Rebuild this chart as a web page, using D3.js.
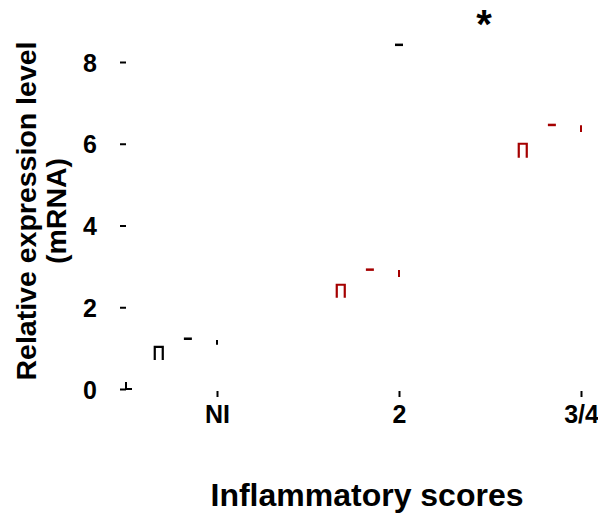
<!DOCTYPE html>
<html>
<head>
<meta charset="utf-8">
<script src="https://cdn.jsdelivr.net/npm/d3@7"></script>
<style>
  body { margin: 0; background: #fff; }
  text { font-family: "Liberation Sans", Arial, sans-serif; font-weight: bold; }
</style>
</head>
<body>
<div id="chart"></div>
<script>
const width = 598;
const height = 524;

// categories on the x axis (numeric positions 1..3)
const categories = ["NI", "2", "3/4"];
const groupColors = ["#000000", "#a50000", "#a50000"];

// open box marks: [low, high]
const boxLow = [0.71, 2.23, 5.66];
const boxHigh = [1.03, 2.55, 6.0];
// short horizontal marks
const dashValues = [1.23, 2.92, 6.46];
// short vertical marks: [low, high]
const tickLow = [1.08, 2.74, 6.29];
const tickHigh = [1.2, 2.91, 6.45];
// lone black dash above group "2"
const extraValue = 8.42;

const yTicks = [0, 2, 4, 6, 8];

const svg = d3
  .select("#chart")
  .append("svg")
  .attr("width", width)
  .attr("height", height);

const xScale = d3.scaleLinear().domain([0.5, 3]).range([126, 581]);
const yScale = d3.scaleLinear().domain([0, 8]).range([389, 62]);

// y axis: only the short tick stubs, no domain line
const yAxis = d3
  .axisLeft(yScale)
  .tickValues(yTicks)
  .tickSize(6)
  .tickPadding(23)
  .tickFormat(d3.format("d"));

const yG = svg
  .append("g")
  .attr("transform", `translate(${xScale(0.5)}, 0)`)
  .call(yAxis);
yG.select(".domain").remove();
yG.selectAll(".tick line").attr("stroke", "#000").attr("stroke-width", 2);
yG.selectAll(".tick text")
  .attr("fill", "#000")
  .style("font-size", "25px")
  .attr("dy", "0.36em");

// origin stub
svg
  .append("path")
  .attr("d", `M${xScale(0.5)},${yScale(0) - 7}V${yScale(0)}H${xScale(0.5) + 6}`)
  .attr("fill", "none")
  .attr("stroke", "#000")
  .attr("stroke-width", 2);

// x axis: short ticks below the plot
const xAxis = d3
  .axisBottom(xScale)
  .tickValues([1, 2, 3])
  .tickSize(6)
  .tickPadding(8)
  .tickFormat((d) => categories[d - 1]);

const xG = svg
  .append("g")
  .attr("transform", `translate(0, ${yScale(0) + 2})`)
  .call(xAxis);
xG.select(".domain").remove();
xG.selectAll(".tick line").attr("stroke", "#000").attr("stroke-width", 2);
xG.selectAll(".tick text")
  .attr("fill", "#000")
  .style("font-size", "25px");

const groups = categories.map((c, i) => ({
  pos: i + 1,
  color: groupColors[i],
  boxLow: boxLow[i],
  boxHigh: boxHigh[i],
  dash: dashValues[i],
  tickLow: tickLow[i],
  tickHigh: tickHigh[i],
}));

const boxOffset = -0.32;
const dashOffset = -0.16;

// open boxes
svg
  .selectAll("path.box")
  .data(groups)
  .enter()
  .append("path")
  .attr("class", "box")
  .attr("d", (d) => {
    const cx = xScale(d.pos + boxOffset);
    return `M${cx - 4},${yScale(d.boxLow)}V${yScale(d.boxHigh)}H${cx + 4}V${yScale(d.boxLow)}`;
  })
  .attr("fill", "none")
  .attr("stroke", (d) => d.color)
  .attr("stroke-width", 2.2);

// dashes
svg
  .selectAll("line.dash")
  .data(groups)
  .enter()
  .append("line")
  .attr("class", "dash")
  .attr("x1", (d) => xScale(d.pos + dashOffset) - 4)
  .attr("x2", (d) => xScale(d.pos + dashOffset) + 4)
  .attr("y1", (d) => yScale(d.dash))
  .attr("y2", (d) => yScale(d.dash))
  .attr("stroke", (d) => d.color)
  .attr("stroke-width", 2.5);

// vertical marks
svg
  .selectAll("line.vtick")
  .data(groups)
  .enter()
  .append("line")
  .attr("class", "vtick")
  .attr("x1", (d) => xScale(d.pos))
  .attr("x2", (d) => xScale(d.pos))
  .attr("y1", (d) => yScale(d.tickLow))
  .attr("y2", (d) => yScale(d.tickHigh))
  .attr("stroke", (d) => d.color)
  .attr("stroke-width", 2);

// lone black dash above "2"
svg
  .append("line")
  .attr("x1", xScale(2) - 4)
  .attr("x2", xScale(2) + 4)
  .attr("y1", yScale(extraValue))
  .attr("y2", yScale(extraValue))
  .attr("stroke", "#000")
  .attr("stroke-width", 2.5);

// significance star
svg
  .append("text")
  .attr("x", 484)
  .attr("y", 38)
  .attr("text-anchor", "middle")
  .style("font-size", "40px")
  .text("*");

// axis titles
svg
  .append("text")
  .attr("x", 367)
  .attr("y", 506)
  .attr("text-anchor", "middle")
  .style("font-size", "32px")
  .text("Inflammatory scores");

const yTitle = svg
  .append("text")
  .attr("transform", `translate(26, 211) rotate(-90)`)
  .attr("text-anchor", "middle")
  .style("font-size", "28.5px");
yTitle.append("tspan").attr("x", 0).attr("dy", "0.35em").text("Relative expression level");
yTitle.append("tspan").attr("x", 0).attr("dy", "1.05em").text("(mRNA)");
</script>
</body>
</html>
